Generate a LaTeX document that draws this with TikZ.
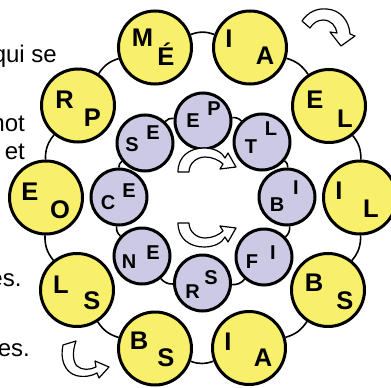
\documentclass[tikz,border=0pt]{standalone}
\usepackage{fontspec}
\setmainfont{Liberation Sans}[BoldFont={Liberation Sans Bold}]
\definecolor{ylw}{RGB}{248,240,106}
\definecolor{lav}{RGB}{204,201,228}
\begin{document}
\begin{tikzpicture}[x=1pt,y=-1pt,
  outer/.style={circle,draw=black,line width=3pt,fill=ylw,minimum size=73pt,inner sep=0pt},
  inner/.style={circle,draw=black,line width=3pt,fill=lav,minimum size=56pt,inner sep=0pt},
  bigl/.style={font=\fontsize{25.5}{26}\selectfont\bfseries,inner sep=0pt,text height=18.3pt,text depth=0pt},
  smalll/.style={font=\fontsize{20}{20}\selectfont\bfseries,inner sep=0pt,text height=14.3pt,text depth=0pt},
  ring/.style={line width=1.6pt},
  side/.style={font=\fontsize{24}{24}\selectfont,inner sep=0pt,anchor=base east},
  blockarrow/.style={draw=black,fill=white,line width=1.2pt,line join=round}]
\useasboundingbox (0,0) rectangle (391,388);
\clip (0,0) rectangle (391,388);

% side text
\node[side] (t1) at (57,62.5) {qui se};
\node[side] (t2) at (25,131.5) {mot};
\node[side] (t3) at (25,159) {et};
\node[side] (t4) at (21.7,286) {es.};
\node[side] (t5) at (30,356) {es.};

% outer ring circles
\node[outer] (o1) at (155,47.5) {};
\node[outer] (o2) at (250,47.5) {};
\node[outer] (o3) at (329,106) {};
\node[outer] (o4) at (360,197.5) {};
\node[outer] (o5) at (328,290) {};
\node[outer] (o6) at (249,348) {};
\node[outer] (o7) at (155,348.5) {};
\node[outer] (o8) at (77,290) {};
\node[outer] (o9) at (46,197.5) {};
\node[outer] (o10) at (78,105.5) {};

% inner ring circles
\node[inner] (i1) at (203,121) {};
\node[inner] (i2) at (262,142) {};
\node[inner] (i3) at (287,197) {};
\node[inner] (i4) at (264,257) {};
\node[inner] (i5) at (202.5,283) {};
\node[inner] (i6) at (142,256) {};
\node[inner] (i7) at (119,197) {};
\node[inner] (i8) at (145,143) {};

% ring connectors
\foreach \a/\b in {o1/o2,o2/o3,o3/o4,o4/o5,o5/o6,o6/o7,o7/o8,o8/o9,o9/o10,o10/o1}
  \draw[ring] (\a) to[bend left=20] (\b);
\foreach \a/\b in {i1/i2,i2/i3,i3/i4,i4/i5,i5/i6,i6/i7,i7/i8,i8/i1}
  \draw[ring] (\a) to[bend left=26] (\b);

% outer letters
\node[bigl] (o1a) at (142.5,37.5) {M};
\node[bigl] (o1b) at (166,56.5) {É};
\node[bigl] (o2a) at (229,38) {I};
\node[bigl] (o2b) at (265,55) {A};
\node[bigl] (o3a) at (315,99) {E};
\node[bigl] (o3b) at (345,118) {L};
\node[bigl] (o4a) at (339,190) {I};
\node[bigl] (o4b) at (371,208) {L};
\node[bigl] (o5a) at (314,282) {B};
\node[bigl] (o5b) at (345,300) {S};
\node[bigl] (o6a) at (228,341) {I};
\node[bigl] (o6b) at (263,357) {A};
\node[bigl] (o7a) at (139,340) {B};
\node[bigl] (o7b) at (166,357.5) {S};
\node[bigl] (o8a) at (61,284) {L};
\node[bigl] (o8b) at (92,300) {S};
\node[bigl] (o9a) at (30,191) {E};
\node[bigl] (o9b) at (60,209) {O};
\node[bigl] (o10a) at (64.5,99) {R};
\node[bigl] (o10b) at (92.5,117.5) {P};

% inner letters
\node[smalll] (i1a) at (193,120) {E};
\node[smalll] (i1b) at (214,108) {P};
\node[smalll] (i2a) at (251,146) {T};
\node[smalll] (i2b) at (271,128) {L};
\node[smalll] (i3a) at (277,204) {B};
\node[smalll] (i3b) at (296,187.5) {I};
\node[smalll] (i4a) at (252,261) {F};
\node[smalll] (i4b) at (273,252) {I};
\node[smalll] (i5a) at (192.5,291) {R};
\node[smalll] (i5b) at (211,277.5) {S};
\node[smalll] (i6a) at (129,261) {N};
\node[smalll] (i6b) at (153,252) {E};
\node[smalll] (i7a) at (108,202.5) {C};
\node[smalll] (i7b) at (129,190) {E};
\node[smalll] (i8a) at (132,144) {S};
\node[smalll] (i8b) at (153,132) {E};

% curved block arrows
\draw[blockarrow] (302,21) .. controls (308,12) and (317,8) .. (327,9)
  .. controls (340,10) and (349,20) .. (350,34) -- (355,36) -- (341,46)
  -- (330,32) -- (337,33) .. controls (336,26) and (331,20) .. (323,20)
  .. controls (318,20) and (313,23) .. (310,28) -- cycle;
\draw[blockarrow] (178,172) .. controls (178,156) and (190,148) .. (204,148)
  .. controls (214,148) and (222,152) .. (225,158) -- (228,153) -- (236,167)
  -- (220,169) -- (223,164) .. controls (219,160) and (212,157) .. (205,157)
  .. controls (197,157) and (189,163) .. (189,172) -- cycle;
\begin{scope}[shift={(0,395)},yscale=-1]
\draw[blockarrow] (178,172) .. controls (178,156) and (190,148) .. (204,148)
  .. controls (214,148) and (222,152) .. (225,158) -- (228,153) -- (236,167)
  -- (220,169) -- (223,164) .. controls (219,160) and (212,157) .. (205,157)
  .. controls (197,157) and (189,163) .. (189,172) -- cycle;
\end{scope}
\draw[blockarrow] (63,345) .. controls (60,358) and (64,372) .. (76,375.5)
  .. controls (84,377.5) and (92,376) .. (97,373) -- (99,378) -- (109,367)
  -- (95,361) -- (96,367) .. controls (90,370) and (82,370.5) .. (77,366)
  .. controls (73,362) and (72,352) .. (76,341) -- cycle;
\end{tikzpicture}
\end{document}
